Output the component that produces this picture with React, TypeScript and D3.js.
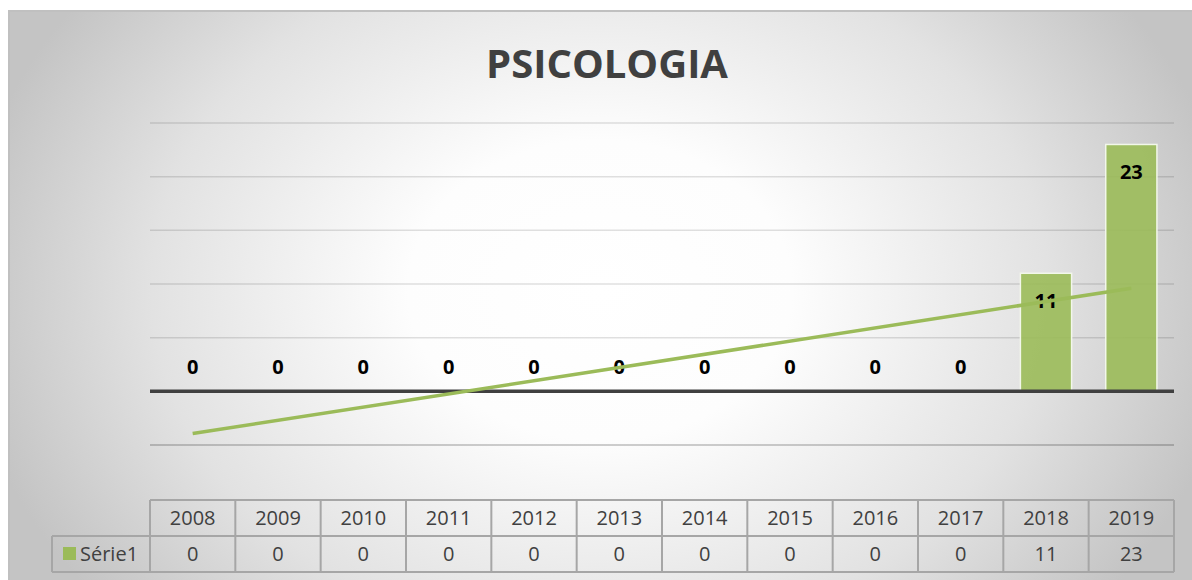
import React from "react";
import * as d3 from "d3";

const title = "PSICOLOGIA";
const categories = ["2008","2009","2010","2011","2012","2013","2014","2015","2016","2017","2018","2019"];
const values = [0,0,0,0,0,0,0,0,0,0,11,23];
const seriesName = "Série1";
const gridTicks = [-5,0,5,10,15,20,25];

const W = 1192, H = 580;
const plotL = 150, plotR = 1174;
const font = "'Open Sans', 'Liberation Sans', sans-serif";

export default function App() {
  const x = d3.scaleBand<string>().domain(categories).range([plotL, plotR]).paddingInner(0.4).paddingOuter(0.2);
  const band = d3.scaleBand<string>().domain(categories).range([plotL, plotR]);
  const y = d3.scaleLinear().domain([-5, 25]).range([445, 123]);

  // linear trendline (least squares)
  const n = values.length;
  const xs = values.map((_, i) => i + 1);
  const mx = d3.mean(xs)!, my = d3.mean(values)!;
  const slope = d3.sum(xs.map((xi, i) => (xi - mx) * (values[i] - my))) / d3.sum(xs.map(xi => (xi - mx) ** 2));
  const icpt = my - slope * mx;
  const trend = [1, n].map(xi => [band(categories[xi - 1])! + band.bandwidth() / 2, y(icpt + slope * xi)] as [number, number]);
  const line = d3.line();

  const headY0 = 500, rowH = 36, legL = 52;

  return (
    <svg width={W} height={H} style={{ position: "absolute", left: 0, top: 0, display: "block" }}>
      <defs>
        <radialGradient id="bg" gradientUnits="userSpaceOnUse" cx={600} cy={290} r={640} gradientTransform="translate(600 290) scale(1 0.78) translate(-600 -290)">
          <stop offset="0" stopColor="#ffffff" />
          <stop offset="0.3" stopColor="#fdfdfd" />
          <stop offset="0.7" stopColor="#e2e2e2" />
          <stop offset="1" stopColor="#c4c4c4" />
        </radialGradient>
      </defs>
      <rect x={0} y={0} width={W} height={H} fill="#ffffff" />
      <rect x={9} y={11} width={W + 10} height={H + 10} fill="url(#bg)" stroke="#c0c0c0" strokeWidth={2} />
      <text x={607} y={78} textAnchor="middle" fontFamily={font} fontWeight={700} fontSize={40} fill="#404040">{title}</text>

      {gridTicks.filter(t => t !== 0).map(t => (
        <line key={t} x1={plotL} x2={plotR} y1={y(t)} y2={y(t)} stroke="#000" strokeOpacity={t === -5 ? 0.25 : 0.12} strokeWidth={1.5} />
      ))}

      {categories.map((c, i) => values[i] > 0 ? (
        <rect key={c} x={x(c)} y={y(values[i])} width={x.bandwidth()} height={y(0) - y(values[i])} fill="#9bbb59" fillOpacity={0.9} stroke="#f2f7ea" strokeWidth={1.5} />
      ) : null)}

      <line x1={plotL} x2={plotR} y1={y(0)} y2={y(0)} stroke="#404040" strokeWidth={3.5} />

      {categories.map((c, i) => (
        <text key={c} x={band(c)! + band.bandwidth() / 2} y={values[i] > 0 ? y(values[i]) + 35 : y(0) - 17}
          textAnchor="middle" fontFamily={font} fontWeight={700} fontSize={20} fill="#000">{values[i]}</text>
      ))}

      <path d={line(trend)!} stroke="#9bbb59" strokeWidth={3.5} fill="none" />

      {/* data table */}
      <g fontFamily={font} fontSize={20} fill="#404040">
        <line x1={plotL} x2={plotR} y1={headY0} y2={headY0} stroke="#a6a6a6" strokeWidth={2} />
        <line x1={legL} x2={plotR} y1={headY0 + rowH} y2={headY0 + rowH} stroke="#a6a6a6" strokeWidth={2} />
        <line x1={legL} x2={plotR} y1={headY0 + 2 * rowH} y2={headY0 + 2 * rowH} stroke="#a6a6a6" strokeWidth={2} />
        <line x1={legL} x2={legL} y1={headY0 + rowH} y2={headY0 + 2 * rowH} stroke="#a6a6a6" strokeWidth={2} />
        {categories.map((c) => (
          <line key={"v" + c} x1={band(c)!} x2={band(c)!} y1={headY0} y2={headY0 + 2 * rowH} stroke="#a6a6a6" strokeWidth={2} />
        ))}
        <line x1={plotR} x2={plotR} y1={headY0} y2={headY0 + 2 * rowH} stroke="#a6a6a6" strokeWidth={2} />
        {categories.map((c, i) => (
          <g key={"t" + c}>
            <text x={band(c)! + band.bandwidth() / 2} y={headY0 + 25} textAnchor="middle">{c}</text>
            <text x={band(c)! + band.bandwidth() / 2} y={headY0 + rowH + 25} textAnchor="middle">{values[i]}</text>
          </g>
        ))}
        <rect x={63} y={headY0 + rowH + 11} width={13} height={13} fill="#9bbb59" />
        <text x={80} y={headY0 + rowH + 25}>{seriesName}</text>
      </g>
    </svg>
  );
}
